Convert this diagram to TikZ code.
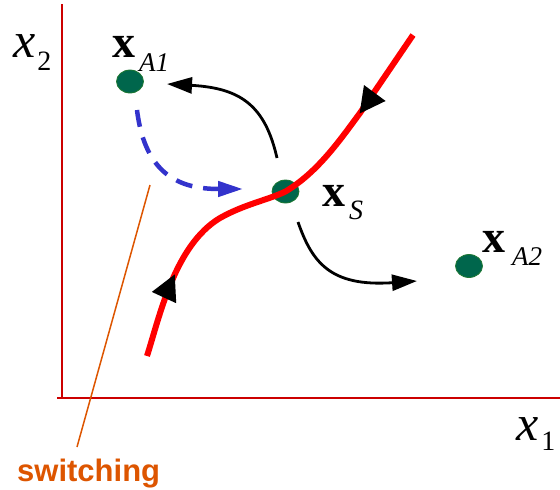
\documentclass[tikz,border=0pt]{standalone}
\usepackage{fontspec}
\setmainfont{Liberation Serif}
\newfontfamily\arialfont{Liberation Sans}
\usetikzlibrary{arrows.meta,decorations.markings,shapes.geometric}
\definecolor{axisred}{RGB}{204,0,0}
\definecolor{curvered}{RGB}{255,0,0}
\definecolor{dotgreen}{RGB}{0,102,76}
\definecolor{dotrim}{RGB}{30,120,50}
\definecolor{dashblue}{RGB}{51,51,204}
\definecolor{switchorange}{RGB}{221,85,0}
\begin{document}
\begin{tikzpicture}[x=1pt,y=-1pt,
  axisline/.style={draw=axisred,line width=2.5pt},
  statedot/.style={ellipse,fill=dotgreen,draw=dotrim,line width=0.8pt,minimum width=27pt,minimum height=23pt,inner sep=0pt},
  flowarrow/.style={draw=black,line width=2.8pt,-{Triangle[length=25pt,width=16pt]}},
  switcharrow/.style={draw=dashblue,line width=4.5pt,dash pattern=on 17pt off 11pt,-{Triangle[length=25pt,width=15pt]}},
  lab/.style={anchor=base west,inner sep=0pt}
]
\useasboundingbox (0,0) rectangle (560,490);

% axes
\coordinate (ytop) at (62,4);
\coordinate (orig) at (62,398);
\coordinate (xend) at (560,398);
\coordinate (xstart) at (57,398);
\draw[axisline] (ytop) -- (orig);
\draw[axisline] (xstart) -- (xend);

% axis labels
\node[lab] (lx2) at (13,57) {\fontsize{50}{50}\selectfont\itshape x\kern 2pt\raisebox{-13pt}{\fontsize{28}{28}\selectfont\upshape 2}};
\node[lab] (lx1) at (516,440) {\fontsize{50}{50}\selectfont\itshape x\kern 3pt\raisebox{-10pt}{\fontsize{28}{28}\selectfont\upshape 1}};

% dots
\node[statedot] (A1) at (130,81.5) {};
\node[statedot] (xS) at (285.5,191.5) {};
\node[statedot] (A2) at (469,266) {};

% state labels
\node[lab] (lA1) at (112,57) {\fontsize{46}{46}\selectfont\bfseries x\kern 4pt\raisebox{-14pt}{\fontsize{27}{27}\selectfont\mdseries\itshape A1}};
\node[lab] (lS) at (322,206) {\fontsize{46}{46}\selectfont\bfseries x\kern 4pt\raisebox{-13pt}{\fontsize{28}{28}\selectfont\mdseries\itshape S}};
\node[lab] (lA2) at (482,252) {\fontsize{46}{46}\selectfont\bfseries x\kern 7pt\raisebox{-13pt}{\fontsize{27}{27}\selectfont\mdseries\itshape A2}};

% switching line and label
\node[anchor=base west,inner sep=0pt,text=switchorange] (sw) at (17,481) {\arialfont\bfseries\fontsize{31}{31}\selectfont switching};
\coordinate (swtop) at (150,185);
\coordinate (swbot) at (77,447);
\draw[switchorange,line width=1.5pt] (swtop) -- (swbot);

% black flow arrows
\coordinate (s1) at (277,158);
\coordinate (e1) at (167,84);
\draw[flowarrow] (s1) .. controls (265,105) and (240,88) .. (e1);
\coordinate (s2) at (298,222);
\coordinate (e2) at (417,281);
\draw[flowarrow] (s2) .. controls (312,262) and (330,287) .. (e2);

% blue dashed switching arrow
\coordinate (s3) at (137,110);
\coordinate (e3) at (243,189);
\draw[switcharrow] (s3) .. controls (145,175) and (180,189) .. (e3);

% red stable manifold curve
\coordinate (rbot) at (147,356);
\coordinate (rtop) at (413,35);
\draw[curvered,line width=6pt,postaction={decorate},
  decoration={markings,
    mark=at position 0.2 with {\arrow{Triangle[length=26pt,width=25pt,color=black]}},
    mark=at position 0.78 with {\arrowreversed{Triangle[length=26pt,width=25pt,color=black]}}}]
  (rbot) .. controls (160,315) and (175,245) .. (220,218)
  .. controls (245,204) and (268,200) .. (xS.center)
  .. controls (318,172) and (340,140) .. (360,113) -- (rtop);
\end{tikzpicture}
\end{document}
